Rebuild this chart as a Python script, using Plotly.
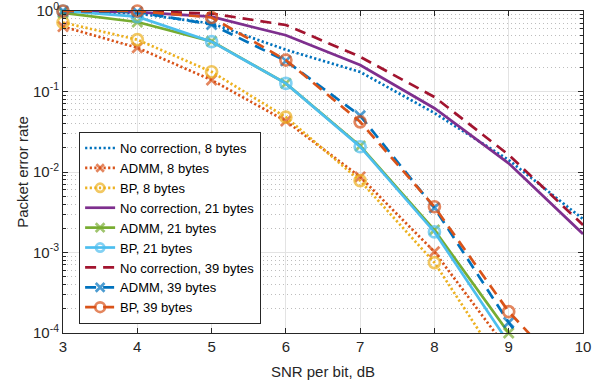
import plotly.graph_objects as go

snr = [3, 4, 5, 6, 7, 8, 9, 10]

nocorr_8 = [1.0, 0.93, 0.70, 0.33, 0.175, 0.054, 0.0141, 0.0026]
admm_8 = [0.64, 0.35, 0.139, 0.043, 0.0087, 0.00102, 6e-5, 2e-6]
bp_8 = [0.72, 0.44, 0.176, 0.048, 0.0078, 0.00075, 2.9e-5, 1e-6]
nocorr_21 = [1.0, 0.97, 0.85, 0.50, 0.213, 0.062, 0.0128, 0.0017]
admm_21 = [0.95, 0.73, 0.42, 0.126, 0.021, 0.0019, 1.0e-4, 3e-6]
bp_21 = [1.0, 0.85, 0.416, 0.126, 0.0206, 0.0018, 7.5e-5, 2e-6]
nocorr_39 = [1.0, 1.0, 0.93, 0.67, 0.27, 0.0855, 0.0163, 0.0022]
admm_39 = [1.0, 0.97, 0.68, 0.24, 0.05, 0.0036, 1.35e-4, 8e-6]
bp_39 = [1.0, 1.0, 0.83, 0.246, 0.042, 0.0037, 1.84e-4, 1.9e-5]

ytick_vals = [1e-4, 1e-3, 1e-2, 1e-1, 1]
ytick_text = ["10<sup>-4</sup>", "10<sup>-3</sup>", "10<sup>-2</sup>", "10<sup>-1</sup>", "10<sup>0</sup>"]
xtick_vals = [3, 4, 5, 6, 7, 8, 9, 10]

YMIN = 1e-4
DOT = "2.2px,2.4px"
DASH = "11px,7px"

series = [
    ("No correction, 8 bytes", nocorr_8, "#0072BD", DOT, None),
    ("ADMM, 8 bytes", admm_8, "#D95319", DOT, "x-thin-open"),
    ("BP, 8 bytes", bp_8, "#EDB120", DOT, "circle-open"),
    ("No correction, 21 bytes", nocorr_21, "#7E2F8E", "solid", None),
    ("ADMM, 21 bytes", admm_21, "#77AC30", "solid", "x-thin-open"),
    ("BP, 21 bytes", bp_21, "#4DBEEE", "solid", "circle-open"),
    ("No correction, 39 bytes", nocorr_39, "#A2142F", DASH, None),
    ("ADMM, 39 bytes", admm_39, "#0072BD", DASH, "x-thin-open"),
    ("BP, 39 bytes", bp_39, "#D95319", DASH, "circle-open"),
]

fig = go.Figure()
for name, vals, color, dash, sym in series:
    if sym is None:
        fig.add_trace(go.Scatter(x=snr, y=vals, name=name, mode="lines",
                                 line=dict(color=color, width=2.7, dash=dash)))
    else:
        size = 11 if sym == "circle-open" else 10
        sizes = [size if v >= YMIN * 0.95 else 0 for v in vals]
        fig.add_trace(go.Scatter(x=snr, y=vals, name=name, mode="lines+markers",
                                 cliponaxis=False,
                                 line=dict(color=color, width=2.7, dash=dash),
                                 marker=dict(symbol=sym, size=sizes, color=color,
                                             line=dict(color=color, width=2.7))))

axis_font = dict(family="Liberation Sans, Arial, sans-serif", size=15, color="#262626")

fig.update_layout(
    width=592, height=389,
    margin=dict(l=63, r=9, t=11, b=56),
    paper_bgcolor="white", plot_bgcolor="white",
    font=dict(family="Liberation Sans, Arial, sans-serif", size=14, color="#262626"),
    showlegend=True,
    legend=dict(x=0.031, y=0.624, xanchor="left", yanchor="top",
                bgcolor="white", bordercolor="#262626", borderwidth=1,
                font=dict(size=13, color="#000000"),
                tracegroupgap=0),
)

fig.update_xaxes(
    range=[3, 10], tickvals=xtick_vals, ticks="inside", ticklen=5,
    tickcolor="#262626", linecolor="#262626", linewidth=1, mirror="ticks",
    showline=True, showgrid=True, gridcolor="#e3e3e3", gridwidth=1,
    zeroline=False, tickfont=axis_font, automargin=False,
    ticklabeloverflow="allow",
    title=dict(text="SNR per bit, dB", font=axis_font, standoff=12),
)
fig.update_yaxes(
    type="log", range=[-4, 0], tickvals=ytick_vals, ticktext=ytick_text,
    ticks="inside", ticklen=5, tickcolor="#262626",
    linecolor="#262626", linewidth=1, mirror="ticks", showline=True,
    showgrid=True, gridcolor="#e3e3e3", gridwidth=1, zeroline=False,
    tickfont=axis_font, automargin=False, ticklabeloverflow="allow",
    minor=dict(dtick="D1", ticks="inside", ticklen=3, tickcolor="#262626",
               showgrid=True, gridcolor="#bdbdbd", griddash="1px,3px", gridwidth=1),
    title=dict(text="Packet error rate", font=axis_font, standoff=0),
)

fig.write_html("out.html", config={"displayModeBar": False},
               post_script="document.body.style.margin='0px';document.body.style.overflow='hidden';")
